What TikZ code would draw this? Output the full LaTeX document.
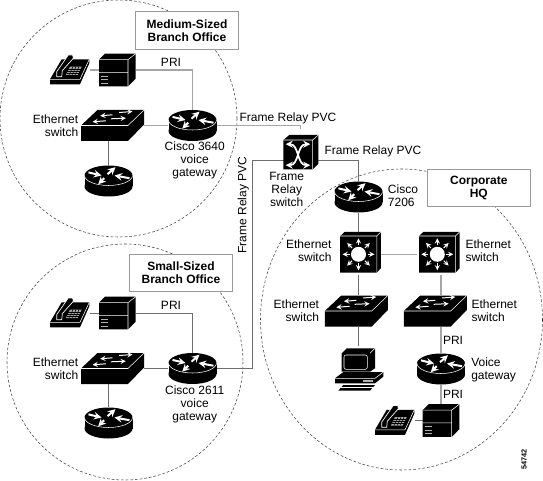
\documentclass[tikz,border=0pt]{standalone}
\usepackage{fontspec}
\usepackage{xcolor}
\setmainfont{Liberation Sans}
\usetikzlibrary{calc}
\definecolor{wiredark}{HTML}{6E6E6E}
\definecolor{wirelight}{HTML}{A6A6A6}
\definecolor{boxgray}{HTML}{9A9A9A}
\tikzset{
  wirethin/.style={wiredark,line width=0.55pt},
  wirethick/.style={wirelight,line width=1pt},
  zone/.style={black!75,line width=0.4pt,dash pattern=on 2pt off 1.5pt},
  lbl/.style={font=\fontsize{9}{9.75}\selectfont,align=center,inner sep=0pt},
  lblr/.style={lbl,align=right,anchor=east},
  lbll/.style={lbl,align=left,anchor=west},
  office/.style={lbl,font=\fontsize{9}{10}\selectfont\bfseries,draw=boxgray,fill=white,line width=0.9pt,minimum width=77.5pt,minimum height=28pt},
  router/.style={inner sep=0pt,minimum width=36pt,minimum height=23.25pt},
  flatswitch/.style={inner sep=0pt,minimum width=47pt,minimum height=23.25pt},
  cubeswitch/.style={inner sep=0pt,minimum width=30pt,minimum height=30pt},
  pbxbox/.style={inner sep=0pt,minimum width=27pt,minimum height=25pt},
  phone/.style={inner sep=0pt,minimum width=30pt,minimum height=22pt},
  pcnode/.style={inner sep=0pt,minimum width=36pt,minimum height=33pt},
  whitetip/.style={white,line width=1.5pt,->},
  whitethin/.style={white,line width=0.75pt,->}
}
\newcommand{\routericon}[1]{
  \begin{scope}[shift={(#1)}]
    \fill (0,5.5) ellipse [x radius=24,y radius=10];
    \fill (-24,-5.5) rectangle (24,5.5);
    \fill (0,-5.5) ellipse [x radius=24,y radius=10];
    \draw[white,line width=0.4pt] (-24,-5.5) .. controls (-24,0) and (-13.2,4.5) .. (0,4.5) .. controls (13.2,4.5) and (24,0) .. (24,-5.5);
    \foreach \ax/\ay/\bx/\by in {-20/-8.6/-7/-5.5,21/-2.8/6/-5.5,-1/-6.8/7/-13.8,-4.3/-2.8/-10.3/3.2}
      \draw[whitetip] (\ax,\ay)--(\bx,\by);
  \end{scope}}
\newcommand{\flatswitchicon}[1]{
  \begin{scope}[shift={(#1)}]
    \fill (-31.5,0)--(-15,-15.5)--(31.5,-15.5)--(31.5,-1)--(15.5,15.5)--(-31.5,15.5)--cycle;
    \draw[white,line width=0.4pt] (-31.5,0)--(15.5,0)--(31.5,-15.5);
    \foreach \ax/\ay/\bx/\by in {0/-10.7/-12.3/-9.7,6.7/-13/20/-14,-1.7/-6.7/13.3/-7.3,-6.7/-4.7/-20/-3.7}
      \draw[whitethin] (\ax,\ay)--(\bx,\by);
  \end{scope}}
\newcommand{\cubeicon}[1]{
  \begin{scope}[shift={(#1)}]
    \fill (-18.3,-18.3)--(-14,-22.3)--(22.3,-22.3)--(22.3,14)--(18.3,18.3)--(-18.3,18.3)--cycle;
    \draw[white,line width=0.4pt] (-18.3,-18.3)--(18.3,-18.3)--(22.3,-22.3) (18.3,-18.3)--(18.3,18.3);
    \fill[white] (0,0) circle [radius=7.5];
    \foreach \a in {0,45,...,315}
      \draw[whitethin] (\a:9)--(\a:16);
  \end{scope}}
\newcommand{\frameicon}[1]{
  \begin{scope}[shift={(#1)}]
    \fill (-17.5,-12.2)--(-11.5,-17.2)--(17.5,-17.2)--(17.5,11.5)--(11.9,17.2)--(-17.5,17.2)--cycle;
    \draw[white,line width=0.4pt] (-17.5,-12.2)--(11.9,-12.2)--(17.5,-17.2) (11.9,-12.2)--(11.9,17.2);
    \draw[white,line width=1.3pt,<->] (-15,-8) .. controls (-2,-8) and (-3.6,13) .. (9.4,13);
    \draw[white,line width=1.3pt,<->] (9.4,-8) .. controls (-3.6,-8) and (-2,13) .. (-15,13);
  \end{scope}}
\newcommand{\pbxicon}[1]{
  \begin{scope}[shift={(#1)}]
    \fill (-18.3,-10.3)--(-12.3,-16.3)--(18.3,-16.3)--(18.3,8.7)--(10.7,16.4)--(-18.3,16.4)--cycle;
    \draw[white,line width=0.4pt] (-18.3,-10.3)--(10.7,-10.3)--(18.3,-16.3) (10.7,-10.3)--(10.7,16.4) (-18.3,2.4)--(10.7,2.4);
    \foreach \yb in {6.4,9.7,13}
      \draw[gray!60,line width=0.7pt] (-16.3,\yb)--(-9,\yb);
  \end{scope}}
\newcommand{\phoneicon}[1]{
  \begin{scope}[shift={(#1)}]
    \fill (-20,9.3)--(-8.3,-10.7)--(19.3,-10.7)--(19.3,-6.7)--(10,14.3)--(-20,14.3)--cycle;
    \draw[white,line width=0.4pt] (-20,9.3)--(10,9.3)--(19.3,-10.7);
    \draw[white,fill=black,line width=0.5pt] (-13.3,6.7)--(-8.3,6.7)--(-7.7,0.7)--(3.3,-11.7)--(2.7,-15)--(-1.7,-15)--(-13.3,1.7)--cycle;
    \fill[gray!70] (0,-3.3)--(11.7,-3.3)--(7.7,5)--(-4,5)--cycle;
    \foreach \yb in {-1.2,1,3}
      \draw[black,line width=0.35pt] (-3,\yb)--(10.8,\yb);
    \foreach \xb in {3,6,9}
      \draw[black,line width=0.35pt] (\xb,-3.3)--(\xb-4,5);
  \end{scope}}
\newcommand{\pcicon}[1]{
  \begin{scope}[shift={(#1)}]
    \fill (-16.8,-15.4)--(-11.8,-20.4)--(16.5,-20.4)--(16.5,-0.4)--(11.5,3)--(-16.8,3)--cycle;
    \draw[white,line width=0.4pt,rounded corners=1.5pt] (-14.5,-13.7) rectangle (8.8,0.6);
    \draw[white,line width=0.4pt] (11.5,-15.4)--(16.5,-20.4);
    \fill (-23.5,9.6)--(-15.2,3.4)--(24.8,3.4)--(24.8,8)--(16.5,14.6)--(-23.5,14.6)--cycle;
    \draw[white,line width=0.4pt] (-23.5,9.6)--(16.5,9.6)--(24.8,3.4);
    \fill[gray!60] (4.8,11.4) rectangle (14.8,12.8);
    \fill (-20.2,22)--(-15.2,16.3)--(16.5,16.3)--(11.5,22)--cycle;
    \draw[white,line width=0.4pt] (-17.5,19)--(14,19);
  \end{scope}}

\begin{document}
\begin{tikzpicture}[x=0.75pt,y=-0.75pt,>=stealth]
  \useasboundingbox (0,0) rectangle (543,481);
  \draw[zone] (118.5,118.5) circle [radius=118.5];
  \draw[zone] (125,362) circle [radius=118];
  \draw[zone] (401.5,319.5) ellipse [x radius=141,y radius=150.5];

  \node[phone]      (phoneA) at (70,70) {};
  \node[pbxbox]     (pbxA)   at (117.3,70) {};
  \node[flatswitch] (swA)    at (112.5,125.5) {};
  \node[router]     (gwA)    at (192.5,125.5) {};
  \node[router]     (lowA)   at (108.5,181) {};
  \node[phone]      (phoneB) at (70,313) {};
  \node[pbxbox]     (pbxB)   at (117.3,313) {};
  \node[flatswitch] (swB)    at (112.5,368.5) {};
  \node[router]     (gwB)    at (192.5,368.5) {};
  \node[router]     (lowB)   at (108.5,423) {};
  \node[inner sep=0pt,minimum width=35pt,minimum height=34pt] (frsw) at (300.8,152.2) {};
  \node[router]     (cgw)    at (358.5,197) {};
  \node[cubeswitch] (mlL)    at (358.5,254.3) {};
  \node[cubeswitch] (mlR)    at (437.3,254.3) {};
  \node[flatswitch] (swL)    at (356.3,311) {};
  \node[flatswitch] (swR)    at (435.3,311) {};
  \node[pcnode]     (pc)     at (358.5,368.7) {};
  \node[router]     (vgw)    at (441,369) {};
  \node[pbxbox]     (pbxC)   at (441,420.5) {};
  \node[phone]      (phoneC) at (395,420.5) {};
  \coordinate (bendB) at (252.3,160);
  \coordinate (frW) at (284,160);
  \coordinate (frE) at (316,160);

  \draw[wirethick] (phoneA)--(pbxA);
  \draw[wirethick] (pbxA) -| (gwA);
  \draw[wirethick] (swA)--(gwA);
  \draw[wirethick] (gwA) -| (frsw);
  \draw[wirethin] (lowA)--(lowA |- swA.south);
  \draw[wirethin] (phoneB)--(pbxB);
  \draw[wirethin] (pbxB) -| (gwB);
  \draw[wirethin] (swB)--(gwB);
  \draw[wirethin] (gwB) -| (bendB)--(frW);
  \draw[wirethin] (lowB)--(lowB |- swB.south);
  \draw[wirethin] (frE) -| (cgw);
  \draw[wirethin] (cgw)--(mlL);
  \draw[wirethick] (mlL)--(mlR);
  \draw[wirethin] (mlL)--(mlL |- swL.north);
  \draw[wirethick] (vgw |- mlR.south)--(vgw |- swR.north);
  \draw[wirethin] (pc |- swL.south)--(pc);
  \draw[wirethick] (vgw |- swR.south)--(vgw);
  \draw[wirethick] (vgw)--(pbxC);
  \draw[wirethin] (phoneC)--(pbxC);

  \phoneicon{phoneA}
  \pbxicon{pbxA}
  \flatswitchicon{swA}
  \routericon{gwA}
  \routericon{lowA}
  \phoneicon{phoneB}
  \pbxicon{pbxB}
  \flatswitchicon{swB}
  \routericon{gwB}
  \routericon{lowB}
  \frameicon{frsw}
  \routericon{cgw}
  \cubeicon{mlL}
  \cubeicon{mlR}
  \flatswitchicon{swL}
  \flatswitchicon{swR}
  \pcicon{pc}
  \routericon{vgw}
  \pbxicon{pbxC}
  \phoneicon{phoneC}

  \node[office] (officeA) at (187,30.5) {Medium-Sized\\Branch Office};
  \node[office] (officeB) at (181,273) {Small-Sized\\Branch Office};
  \node[office] (officeC) at (478.8,188) {Corporate\\HQ};
  \node[lbl] (priA) at (171,62) {PRI};
  \node[lbl] (priB) at (171,305) {PRI};
  \node[lbl] (priC) at (453,340.7) {PRI};
  \node[lbl] (priD) at (453,394.3) {PRI};
  \node[lblr] (ethA) at (78.5,125.5) {Ethernet\\switch};
  \node[lblr] (ethB) at (78.5,368.5) {Ethernet\\switch};
  \node[lblr] (ethC) at (331.7,250.3) {Ethernet\\switch};
  \node[lbll] (ethD) at (465.3,250.3) {Ethernet\\switch};
  \node[lblr] (ethE) at (319.3,310.3) {Ethernet\\switch};
  \node[lbll] (ethF) at (471.3,310.3) {Ethernet\\switch};
  \node[lbl] (ciscoA) at (194.7,160.5) {Cisco 3640\\voice\\gateway};
  \node[lbl] (ciscoB) at (194.7,404) {Cisco 2611\\voice\\gateway};
  \node[lbll] (ciscoC) at (387.7,196) {Cisco\\7206};
  \node[lbll] (voiceC) at (471,369.7) {Voice\\gateway};
  \node[lbl] (pvcA) at (288,118) {Frame Relay PVC};
  \node[lbl] (pvcB) at (373,151.7) {Frame Relay PVC};
  \node[lbl,rotate=90] (pvcC) at (243.3,205) {Frame Relay PVC};
  \node[lbl] (frlbl) at (286.7,189.3) {Frame\\Relay\\switch};
  \node[lbl,font=\fontsize{5.5}{6}\selectfont\bfseries,rotate=90] (figno) at (524,459.5) {54742};
\end{tikzpicture}
\end{document}
